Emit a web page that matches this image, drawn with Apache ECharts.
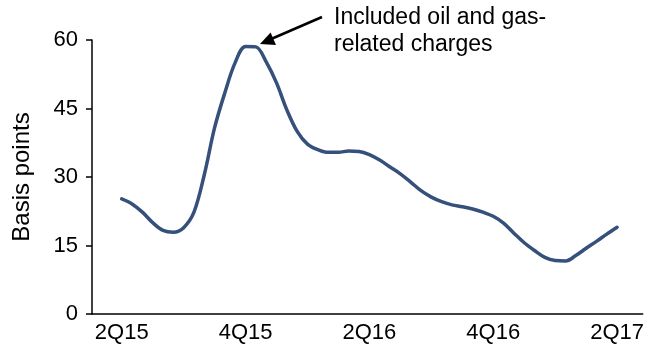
<!DOCTYPE html>
<html>
<head>
<meta charset="utf-8">
<script src="https://cdn.jsdelivr.net/npm/echarts@6/dist/echarts.min.js"></script>
<style>
  html, body { margin: 0; padding: 0; background: #fff; }
  #chart { width: 647px; height: 352px; }
</style>
</head>
<body>
<div id="chart"></div>
<script>
// Loss rate in basis points, sampled every half month from 2Q15 to 2Q17
const stepMonths = 0.5;
const basisPoints = [
  25.2, 24.1, 22.3, 20.0, 18.3, 17.9, 18.9, 22.3, 30.5, 40.8,
  48.5, 55.1, 58.6, 58.5, 55.2, 50.6, 44.7, 40.0, 37.2, 36.0,
  35.4, 35.4, 35.7, 35.6, 34.9, 33.7, 32.2, 30.7, 28.9, 27.0,
  25.6, 24.6, 23.9, 23.5, 23.0, 22.3, 21.4, 19.9, 17.7, 15.6,
  13.9, 12.4, 11.7, 11.6, 12.8, 14.4, 15.9, 17.5, 19.0
];
// Quarter labels, one every six months
const tickMonths = [0, 6, 12, 18, 24];
const tickLabels = ['2Q15', '4Q15', '2Q16', '4Q16', '2Q17'];
const yTicks = [0, 15, 30, 45, 60];

const seriesData = basisPoints.map((v, i) => [i * stepMonths, v]);
const font = 'Liberation Sans, Arial, sans-serif';

const chart = echarts.init(document.getElementById('chart'), null, { renderer: 'canvas' });
chart.setOption({
  animation: false,
  backgroundColor: '#ffffff',
  grid: { left: 92, right: 0, top: 40, bottom: 38, containLabel: false },
  xAxis: {
    type: 'value',
    min: -1.44,
    max: 25.24,
    splitLine: { show: false },
    axisLine: { show: true, onZero: false, lineStyle: { color: '#000', width: 1.5 } },
    axisTick: { show: false },
    axisLabel: {
      customValues: tickMonths,
      formatter: (v) => tickLabels[tickMonths.indexOf(Math.round(v))] || '',
      color: '#000',
      fontFamily: font,
      fontSize: 22,
      margin: 8
    }
  },
  yAxis: {
    type: 'value',
    min: yTicks[0],
    max: yTicks[yTicks.length - 1],
    interval: 15,
    name: 'Basis points',
    nameLocation: 'middle',
    nameGap: 58,
    nameRotate: 90,
    nameTextStyle: { color: '#000', fontFamily: font, fontSize: 24 },
    splitLine: { show: false },
    axisLine: { show: true, onZero: false, lineStyle: { color: '#000', width: 1.5 } },
    axisTick: { show: true, inside: false, length: 6, lineStyle: { color: '#000', width: 1.5 } },
    axisLabel: { color: '#000', fontFamily: font, fontSize: 22, margin: 14 }
  },
  series: [{
    type: 'line',
    data: seriesData,
    smooth: 0.35,
    showSymbol: false,
    lineStyle: { color: '#35507a', width: 3.5, cap: 'round', join: 'round' },
    z: 3
  }],
  graphic: [
    // Callout arrow pointing at the peak
    {
      type: 'line',
      shape: { x1: 322, y1: 17, x2: 270, y2: 39.5 },
      style: { stroke: '#000', lineWidth: 2.5 },
      z: 10
    },
    {
      type: 'polygon',
      shape: { points: [[260, 44], [270.6, 32.6], [276.0, 45.0]] },
      style: { fill: '#000' },
      z: 10
    },
    {
      type: 'text',
      left: 334,
      top: 4,
      style: {
        text: 'Included oil and gas-\nrelated charges',
        fill: '#000',
        font: '23px ' + font,
        lineHeight: 27
      },
      z: 10
    }
  ]
});
</script>
</body>
</html>
